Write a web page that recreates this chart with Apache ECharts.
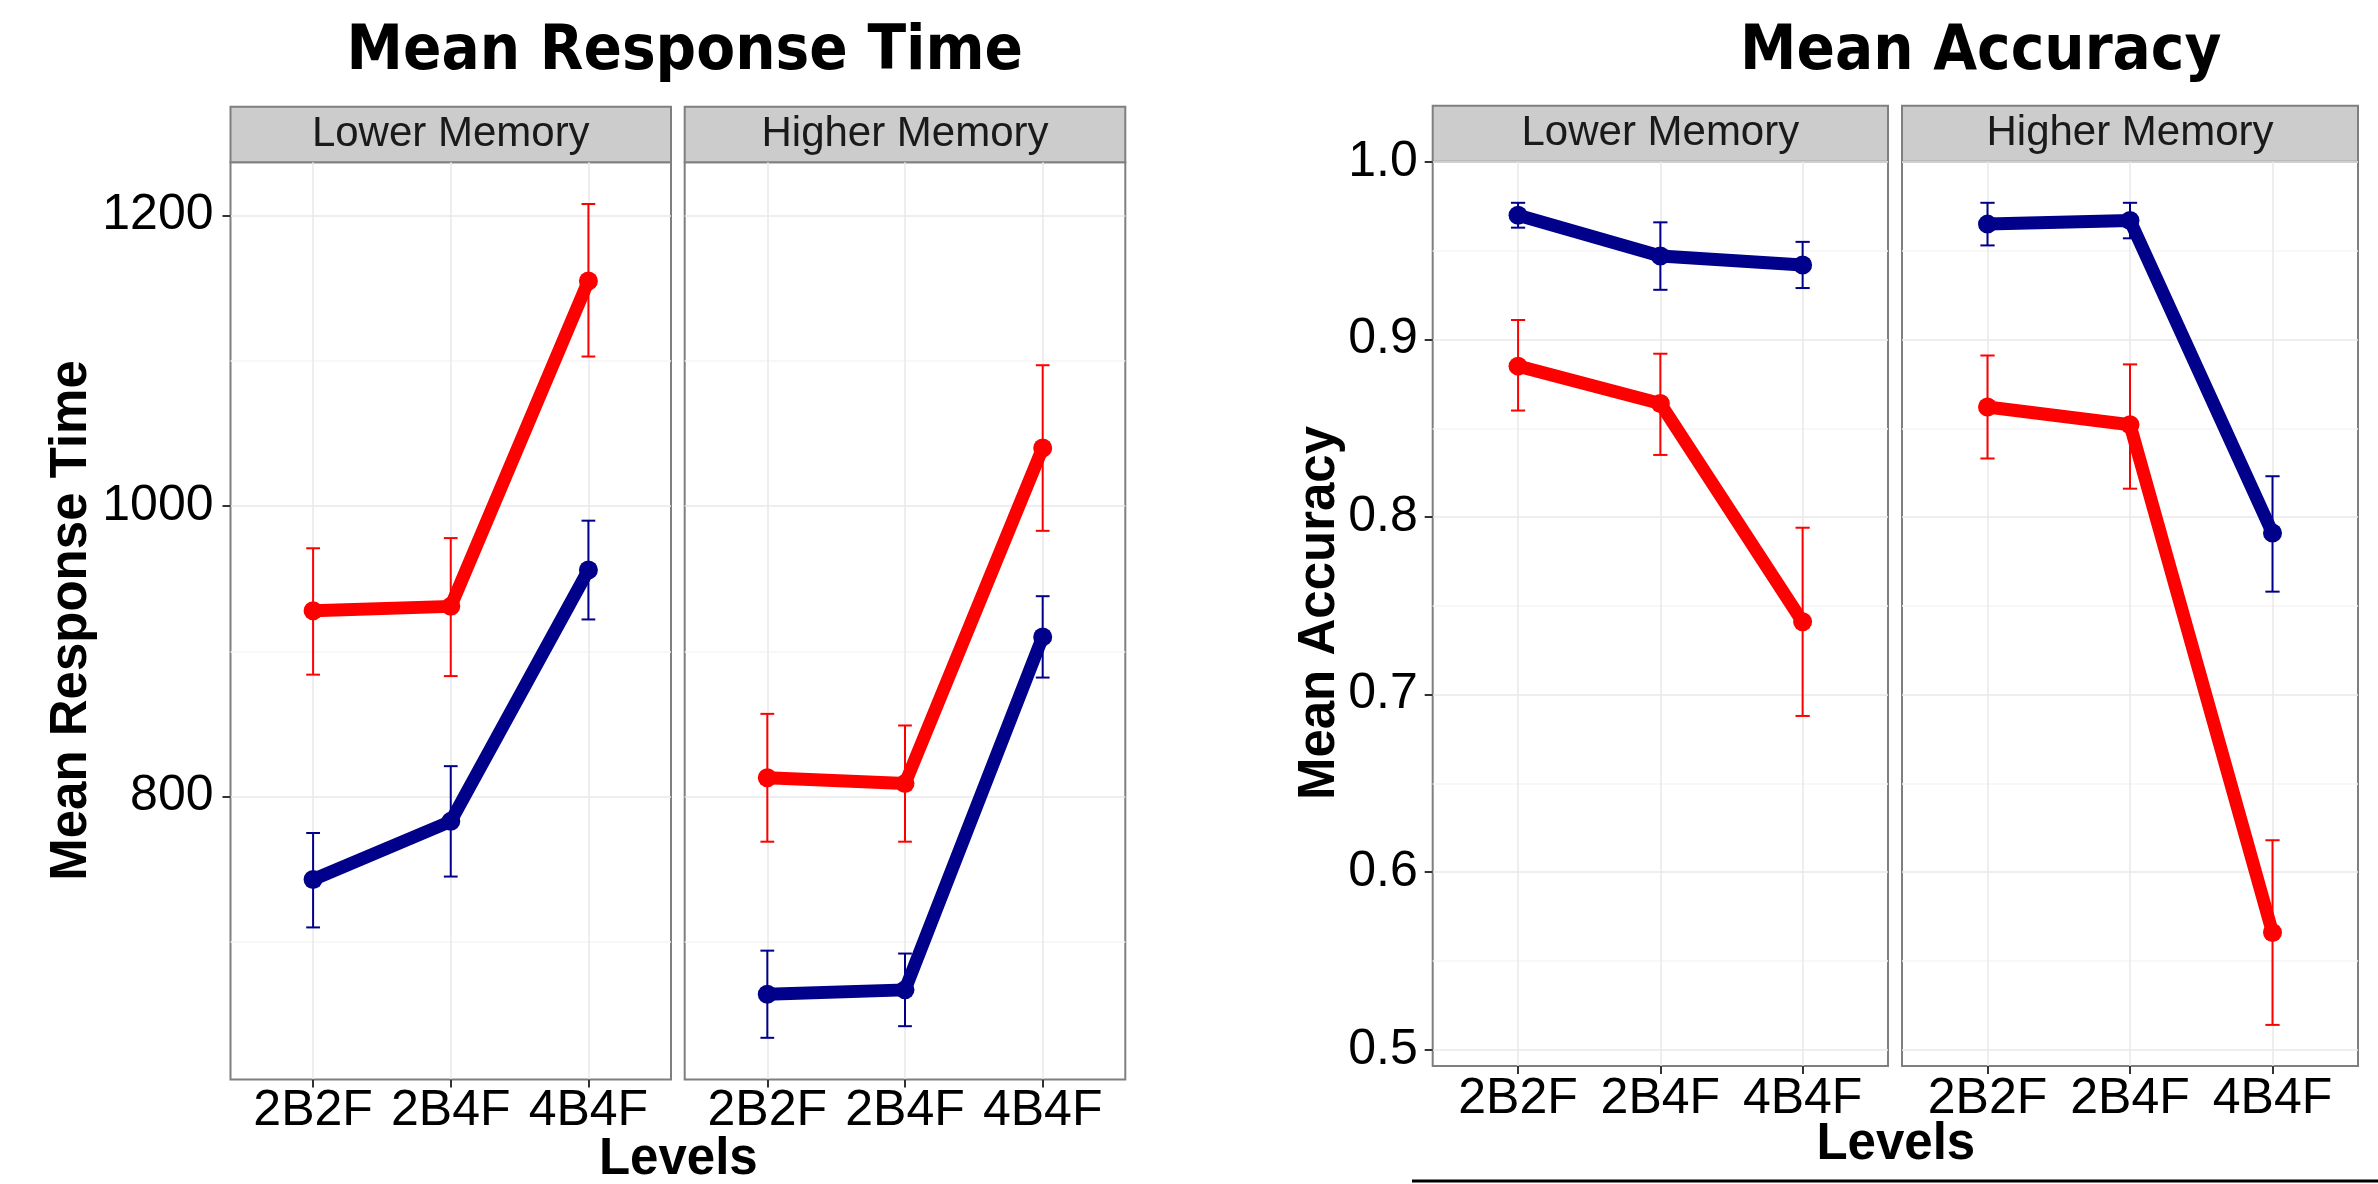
<!DOCTYPE html>
<html>
<head>
<meta charset="utf-8">
<title>Mean Response Time / Mean Accuracy</title>
<script src="https://cdn.jsdelivr.net/npm/echarts@6.0.0/dist/echarts.min.js"></script>
<style>
  html, body { margin: 0; padding: 0; background: #fff; }
  #chart { width: 2378px; height: 1184px; }
</style>
</head>
<body>
<div id="chart"></div>
<script>
// x categories
const levels = ['2B2F', '2B4F', '4B4F'];
const memoryGroups = ['Lower Memory', 'Higher Memory'];

// Mean response time (ms)
const rtLowerRed = [928, 931, 1155];
const rtLowerRedLo = [884, 883, 1103];
const rtLowerRedHi = [971, 978, 1208];
const rtLowerBlue = [743, 783, 956];
const rtLowerBlueLo = [710, 745, 922];
const rtLowerBlueHi = [775, 821, 990];
const rtHigherRed = [813, 809, 1040];
const rtHigherRedLo = [769, 769, 983];
const rtHigherRedHi = [857, 849, 1097];
const rtHigherBlue = [664, 667, 910];
const rtHigherBlueLo = [634, 642, 882];
const rtHigherBlueHi = [694, 692, 938];

// Mean accuracy
const accLowerRed = [0.885, 0.864, 0.741];
const accLowerRedLo = [0.860, 0.835, 0.688];
const accLowerRedHi = [0.911, 0.892, 0.794];
const accLowerBlue = [0.970, 0.947, 0.942];
const accLowerBlueLo = [0.963, 0.928, 0.929];
const accLowerBlueHi = [0.977, 0.966, 0.955];
const accHigherRed = [0.862, 0.852, 0.566];
const accHigherRedLo = [0.833, 0.816, 0.514];
const accHigherRedHi = [0.891, 0.886, 0.618];
const accHigherBlue = [0.965, 0.967, 0.791];
const accHigherBlueLo = [0.953, 0.957, 0.758];
const accHigherBlueHi = [0.977, 0.977, 0.823];

// tick labels
const rtTicks = [800, 1000, 1200];
const rtMinorTicks = [700, 900, 1100];
const accTicks = [0.5, 0.6, 0.7, 0.8, 0.9, 1.0];
const accMinorTicks = [0.55, 0.65, 0.75, 0.85, 0.95];

const RED = '#FF0000';
const BLUE = '#00008B';
const SANS = '"Liberation Sans", Arial, sans-serif';

// ggplot-style range: data range expanded 5% each side
function expandRange(los, his) {
    const lo = Math.min(...los.flat()), hi = Math.max(...his.flat());
    const pad = (hi - lo) * 0.05;
    return [lo - pad, hi + pad];
}
const rtRange = expandRange([rtLowerRedLo, rtLowerBlueLo, rtHigherRedLo, rtHigherBlueLo],
                            [rtLowerRedHi, rtLowerBlueHi, rtHigherRedHi, rtHigherBlueHi]);
const accRange = expandRange([accLowerRedLo, accLowerBlueLo, accHigherRedLo, accHigherBlueLo],
                             [accLowerRedHi, accLowerBlueHi, accHigherRedHi, accHigherBlueHi]);

const panels = [
    { grid: { left: 230.5, top: 162.3, width: 440.5, height: 917.2 }, range: rtRange, ticks: rtTicks, minor: rtMinorTicks, labels: true, digits: 0, labelMargin: 17, xMargin: 7,
      red: [rtLowerRed, rtLowerRedLo, rtLowerRedHi], blue: [rtLowerBlue, rtLowerBlueLo, rtLowerBlueHi] },
    { grid: { left: 684.7, top: 162.3, width: 440.6, height: 917.2 }, range: rtRange, ticks: rtTicks, minor: rtMinorTicks, labels: false, digits: 0, labelMargin: 17, xMargin: 7,
      red: [rtHigherRed, rtHigherRedLo, rtHigherRedHi], blue: [rtHigherBlue, rtHigherBlueLo, rtHigherBlueHi] },
    { grid: { left: 1432.7, top: 161.7, width: 455.3, height: 904.3 }, range: accRange, ticks: accTicks, minor: accMinorTicks, labels: true, digits: 1, labelMargin: 15, xMargin: 8,
      red: [accLowerRed, accLowerRedLo, accLowerRedHi], blue: [accLowerBlue, accLowerBlueLo, accLowerBlueHi] },
    { grid: { left: 1902, top: 161.7, width: 456, height: 904.3 }, range: accRange, ticks: accTicks, minor: accMinorTicks, labels: false, digits: 1, labelMargin: 15, xMargin: 8,
      red: [accHigherRed, accHigherRedLo, accHigherRedHi], blue: [accHigherBlue, accHigherBlueLo, accHigherBlueHi] }
];

function renderErrorBar(params, api) {
    const x = api.value(0);
    const lo = api.coord([x, api.value(1)]);
    const hi = api.coord([x, api.value(2)]);
    const half = api.size([0.1, 0])[0] / 2;
    const style = { stroke: api.visual('color'), lineWidth: 2 };
    return {
        type: 'group',
        children: [
            { type: 'line', shape: { x1: lo[0], y1: lo[1], x2: hi[0], y2: hi[1] }, style },
            { type: 'line', shape: { x1: hi[0] - half, y1: hi[1], x2: hi[0] + half, y2: hi[1] }, style },
            { type: 'line', shape: { x1: lo[0] - half, y1: lo[1], x2: lo[0] + half, y2: lo[1] }, style }
        ]
    };
}

const grids = [], xAxes = [], yAxes = [], series = [];
panels.forEach((p, g) => {
    grids.push(Object.assign({ show: true, borderColor: '#7F7F7F', borderWidth: 2, backgroundColor: '#fff', outerBoundsMode: 'none' }, p.grid));
    xAxes.push({
        type: 'value', gridIndex: g, min: -0.6, max: 2.6, position: 'bottom',
        axisLine: { show: false, onZero: false },
        axisTick: { show: true, customValues: [0, 1, 2], length: 8, lineStyle: { color: '#333', width: 2 } },
        axisLabel: { customValues: [0, 1, 2], formatter: v => levels[Math.round(v)], fontSize: 50, fontFamily: SANS, color: '#000', margin: p.xMargin },
        splitLine: { show: true, lineStyle: { color: '#E8E8E8', width: 1.5 } }
    });
    // major axis (labels + major grid)
    yAxes.push({
        type: 'value', gridIndex: g, min: p.range[0], max: p.range[1], position: 'left',
        axisLine: { show: false, onZero: false },
        axisTick: { show: p.labels, customValues: p.ticks, length: 8, lineStyle: { color: '#333', width: 2 } },
        axisLabel: { show: p.labels, customValues: p.ticks, formatter: v => v.toFixed(p.digits), fontSize: 50, fontFamily: SANS, color: '#000', margin: p.labelMargin },
        splitLine: { show: true, lineStyle: { color: '#E8E8E8', width: 1.5 } }
    });
    // minor grid only
    yAxes.push({
        type: 'value', gridIndex: g, min: p.range[0], max: p.range[1], position: 'left',
        axisLine: { show: false, onZero: false },
        axisTick: { show: false, customValues: p.minor },
        axisLabel: { show: false, customValues: p.minor },
        splitLine: { show: true, lineStyle: { color: '#F5F5F5', width: 1.5 } }
    });
    [['red', RED], ['blue', BLUE]].forEach(([key, color]) => {
        const [mean, lo, hi] = p[key];
        series.push({
            type: 'custom', name: key + ' error', xAxisIndex: g, yAxisIndex: 2 * g,
            renderItem: renderErrorBar, itemStyle: { color }, clip: false, z: 2,
            encode: { x: 0, y: [1, 2] },
            data: levels.map((_, i) => [i, lo[i], hi[i]])
        });
    });
    [['red', RED], ['blue', BLUE]].forEach(([key, color]) => {
        const mean = p[key][0];
        series.push({
            type: 'line', name: key + ' ' + memoryGroups[g % 2], xAxisIndex: g, yAxisIndex: 2 * g,
            data: levels.map((_, i) => [i, mean[i]]),
            symbol: 'circle', symbolSize: 19, showSymbol: true, z: 3,
            itemStyle: { color },
            lineStyle: { color, width: 13, cap: 'round', join: 'round' },
            emphasis: { disabled: true }
        });
    });
});

// facet strips, titles, axis titles
const graphic = [];
panels.forEach((p, g) => {
    const top = g < 2 ? 106.7 : 105.7;
    const h = p.grid.top - top;
    graphic.push({ type: 'rect', shape: { x: p.grid.left, y: top, width: p.grid.width, height: h },
        style: { fill: '#CCCCCC', stroke: '#7F7F7F', lineWidth: 2 } });
    graphic.push({ type: 'text', x: p.grid.left + p.grid.width / 2, y: top + h / 2,
        style: { text: memoryGroups[g % 2], font: '42px ' + SANS, fill: '#1A1A1A', textAlign: 'center', textVerticalAlign: 'middle' } });
});
const titleFont = 'bold 63px "DejaVu Sans Condensed", "DejaVu Sans", sans-serif';
const axisTitleFont = 'bold 51px ' + SANS;
graphic.push(
    { type: 'text', x: 684.8, y: 52.7, style: { text: 'Mean Response Time', font: titleFont, fill: '#000', textAlign: 'center', textVerticalAlign: 'middle' } },
    { type: 'text', x: 1980.7, y: 52.7, style: { text: 'Mean Accuracy', font: titleFont, fill: '#000', textAlign: 'center', textVerticalAlign: 'middle' } },
    { type: 'text', x: 72, y: 620.5, rotation: Math.PI / 2, style: { text: 'Mean Response Time', font: axisTitleFont, fill: '#000', textAlign: 'center', textVerticalAlign: 'middle' } },
    { type: 'text', x: 1320, y: 613, rotation: Math.PI / 2, style: { text: 'Mean Accuracy', font: axisTitleFont, fill: '#000', textAlign: 'center', textVerticalAlign: 'middle' } },
    { type: 'text', x: 678.3, y: 1160, style: { text: 'Levels', font: axisTitleFont, fill: '#000', textAlign: 'center', textVerticalAlign: 'middle' } },
    { type: 'text', x: 1895.8, y: 1145, style: { text: 'Levels', font: axisTitleFont, fill: '#000', textAlign: 'center', textVerticalAlign: 'middle' } },
    { type: 'line', shape: { x1: 1412, y1: 1181, x2: 2378, y2: 1181 }, style: { stroke: '#000', lineWidth: 3 } }
);

const chart = echarts.init(document.getElementById('chart'), null, { renderer: 'canvas' });
chart.setOption({
    backgroundColor: '#fff',
    animation: false,
    grid: grids,
    xAxis: xAxes,
    yAxis: yAxes,
    series,
    graphic
});
</script>
</body>
</html>
